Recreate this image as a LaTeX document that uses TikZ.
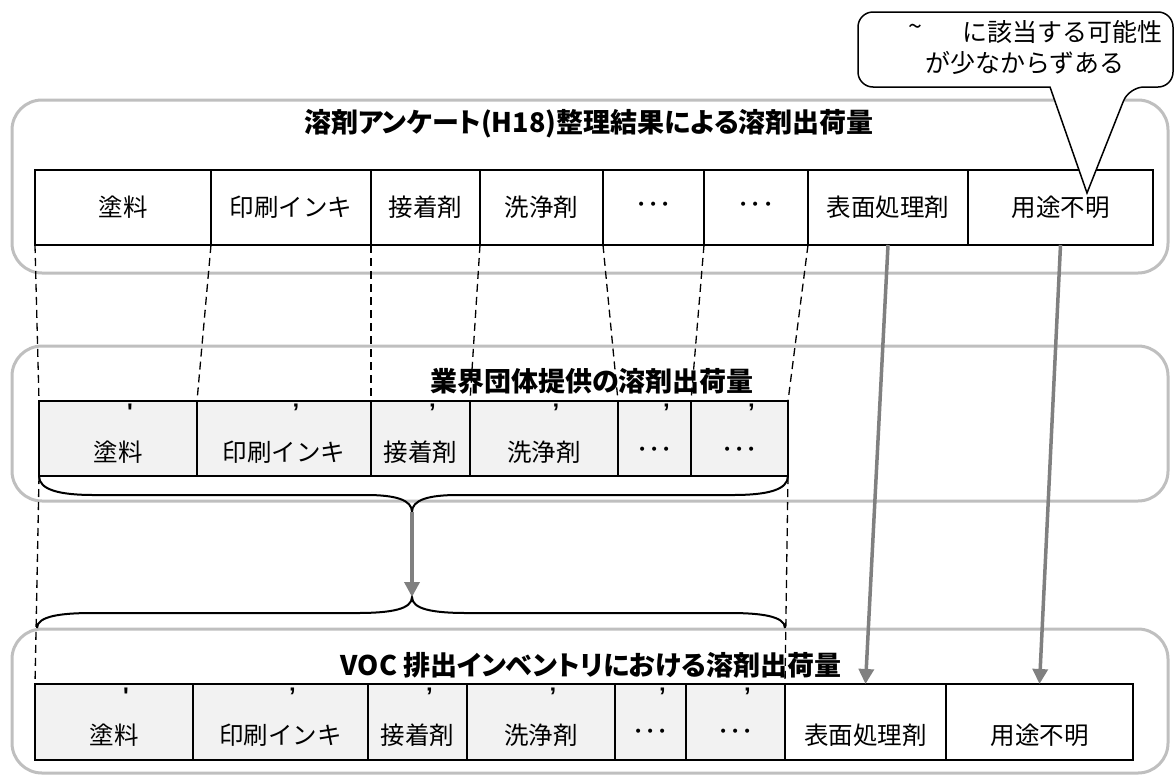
\documentclass[tikz,border=0pt]{standalone}
\usepackage{fontspec}
\usetikzlibrary{arrows.meta,calc}
\newfontfamily\jp{Noto Sans CJK JP}
\newfontfamily\jpp{Noto Sans CJK JP}[RawFeature=+palt]
\newfontfamily\lib{Liberation Sans}
\definecolor{grayline}{HTML}{BFBFBF}
\definecolor{arrowgray}{HTML}{808080}
\definecolor{cellgray}{HTML}{F2F2F2}
\tikzset{
  every node/.style={inner sep=0pt, outer sep=0pt, font=\jp\fontsize{24.5}{28}\selectfont},
  grp/.style={draw=grayline, line width=3pt, rounded corners=30pt},
  ttl/.style={font=\jpp\bfseries\fontsize{27}{30}\selectfont},
  cellbox/.style={draw=black, line width=2pt, inner sep=0pt, outer sep=0pt},
  mk/.style={font=\lib\bfseries\fontsize{24}{26}\selectfont},
  dsh/.style={draw=black, line width=1.3pt, dash pattern=on 8pt off 5pt},
  bracepath/.style={draw=black, line width=2pt},
  garrow/.style={draw=arrowgray, line width=3.5pt, -{Triangle[width=15pt,length=15pt]}},
  callout/.style={draw=black, line width=1.5pt, fill=white},
  ctext/.style={font=\jp\fontsize{25}{28}\selectfont}
}
\begin{document}
\begin{tikzpicture}[x=1pt,y=-1pt]
\useasboundingbox (0,0) rectangle (1175,777);
\clip (0,0) rectangle (1175,777);
% group frames
\draw[grp] (12,100) rectangle (1168,273);
\draw[grp] (12,346) rectangle (1168,501);
\draw[grp] (12,629) rectangle (1168,773);
% titles
\node[ttl] (t1) at (589,124) {溶剤アンケート(H18)整理結果による溶剤出荷量};
\node[ttl] (t2) at (592,381) {業界団体提供の溶剤出荷量};
\node[ttl] (t3) at (591,665) {VOC 排出インベントリにおける溶剤出荷量};
% row 1
\foreach \a/\b/\t [count=\i] in {35/211/塗料, 211/371/印刷インキ, 371/480/接着剤, 480/603/洗浄剤, 603/704/･･･, 704/808/･･･, 808/968/表面処理剤, 968/1153/用途不明}{
  \node[cellbox, fill=white, minimum width={(\b-\a)*1pt}, minimum height=75pt] (r1c\i) at ({(\a+\b)/2},207.5) {};
  \node (r1t\i) at (r1c\i.center) {\t};
}
% row 2
\foreach \a/\b/\t/\m [count=\i] in {39/197/塗料/', 197/371/印刷インキ/’, 371/470/接着剤/’, 470/618/洗浄剤/’, 618/691/･･･/’, 691/788/･･･/’}{
  \node[cellbox, fill=cellgray, minimum width={(\b-\a)*1pt}, minimum height=75pt] (r2c\i) at ({(\a+\b)/2},438.5) {};
  \node (r2t\i) at ($(r2c\i.center)+(0,14)$) {\t};
  \node[mk] (r2m\i) at ($(r2c\i.center)+(12,-26)$) {\m};
}
% row 3
\foreach \a/\b/\t/\m [count=\i] in {35/193/塗料/', 193/368/印刷インキ/’, 368/467/接着剤/’, 467/615/洗浄剤/’, 615/686/･･･/’, 686/785/･･･/’}{
  \node[cellbox, fill=cellgray, minimum width={(\b-\a)*1pt}, minimum height=76pt] (r3c\i) at ({(\a+\b)/2},722) {};
  \node (r3t\i) at ($(r3c\i.center)+(0,13)$) {\t};
  \node[mk] (r3m\i) at ($(r3c\i.center)+(12,-26)$) {\m};
}
\foreach \a/\b/\t [count=\j from 7] in {785/946/表面処理剤, 946/1133/用途不明}{
  \node[cellbox, fill=white, minimum width={(\b-\a)*1pt}, minimum height=76pt] (r3c\j) at ({(\a+\b)/2},722) {};
  \node (r3t\j) at ($(r3c\j.center)+(0,13)$) {\t};
}
% dashed correspondences
\foreach \i in {1,...,6}{
  \draw[dsh] (r1c\i.south west) -- (r2c\i.north west);
}
\draw[dsh] (r1c6.south east) -- (r2c6.north east);
\draw[dsh] (r2c1.south west) -- (r3c1.north west);
\draw[dsh] (r2c6.south east) -- (r3c6.north east);
% braces
\coordinate (upTip) at (412,512);
\coordinate (loTip) at (412,597);
\draw[bracepath] (r2c1.south west) .. controls +(0,14) and +(-34,0) .. (94,495) -- (366,495)
   .. controls +(30,0) and +(0,-12) .. (upTip)
   .. controls +(0,-12) and +(-30,0) .. (458,495) -- (733,495)
   .. controls +(34,0) and +(0,14) .. (r2c6.south east);
\draw[bracepath] (37,628) .. controls +(0,-12) and +(-30,0) .. (92,613) -- (357,613)
   .. controls +(35,0) and +(0,12) .. (loTip)
   .. controls +(0,12) and +(-35,0) .. (467,613) -- (730,613)
   .. controls +(30,0) and +(0,-12) .. (785,628);
% arrows
\draw[garrow] (upTip) -- (loTip);
\draw[garrow] (r1c7.south) -- (r3c7.north);
\draw[garrow] (r1c8.south) -- (r3c8.north);
% callout
\coordinate (ctip) at (1087,193);
\draw[callout, rounded corners=15pt] (1050,87) -- (858,87) -- (858,12) -- (1173,12) -- (1173,87) -- (1129,87) [sharp corners] -- (ctip) -- cycle;
\node[ctext] (c0) at (915,30) {\textasciitilde};
\node[ctext, anchor=west] (c1) at (962,32) {に該当する可能性};
\node[ctext, anchor=west] (c2) at (925,63) {が少なからずある};
\end{tikzpicture}
\end{document}
